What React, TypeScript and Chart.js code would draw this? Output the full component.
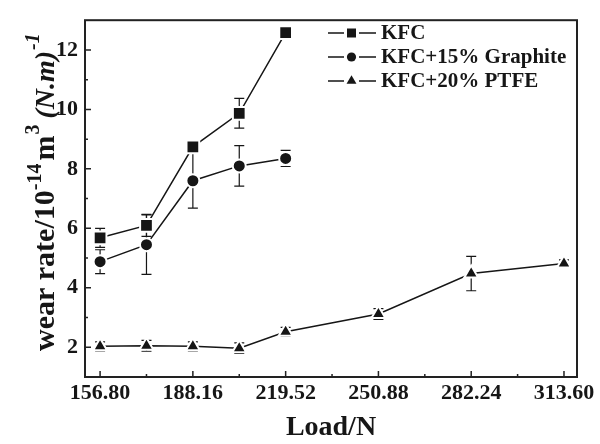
import React, { useEffect, useRef } from "react";
import { Chart, registerables } from "chart.js";
Chart.register(...registerables);

const loads = [156.8, 172.48, 188.16, 203.84, 219.52, 250.88, 282.24, 313.6];
const xTickValues = [156.8, 188.16, 219.52, 250.88, 282.24, 313.6];
const xTickLabels = ["156.80", "188.16", "219.52", "250.88", "282.24", "313.60"];
const xMinorTicks = [172.48, 203.84, 235.2, 266.56, 297.92];
const yTickValues = [2, 4, 6, 8, 10, 12];
const yMinorTicks = [3, 5, 7, 9, 11];

const seriesNames = ["KFC", "KFC+15% Graphite", "KFC+20% PTFE"];
const kfc = [5.68, 6.1, 8.74, 9.87, 12.58];
const kfcErr = [0.32, 0.37, 0.12, 0.5, 0.05];
const graphite = [4.88, 5.45, 7.6, 8.1, 8.35];
const graphiteErr = [0.4, 1.0, 0.92, 0.68, 0.27];
const ptfe = [2.03, 2.05, 2.03, 1.97, 2.52, 3.12, 4.48, 4.82];
const ptfeErr = [0.15, 0.18, 0.15, 0.18, 0.15, 0.18, 0.58, 0.12];

const INK = "#161616";
const FONT = "'Liberation Serif', 'Times New Roman', serif";

const errors = [kfcErr, graphiteErr, ptfeErr];

function drawMarker(ctx: CanvasRenderingContext2D, style: string, x: number, y: number, s: number) {
  ctx.beginPath();
  if (style === "rect") {
    ctx.rect(x - s, y - s, 2 * s, 2 * s);
  } else if (style === "circle") {
    ctx.arc(x, y, s, 0, Math.PI * 2);
  } else {
    const r = s * 1.3;
    ctx.moveTo(x, y - r);
    ctx.lineTo(x + r * 0.866, y + r * 0.5);
    ctx.lineTo(x - r * 0.866, y + r * 0.5);
    ctx.closePath();
  }
  ctx.fill();
}

const decor = {
  id: "decor",
  beforeDatasetsDraw(chart: any) {
    const ctx = chart.ctx as CanvasRenderingContext2D;
    const xs = chart.scales.x;
    const ys = chart.scales.y;
    ctx.save();
    ctx.strokeStyle = INK;
    ctx.lineWidth = 1.2;
    chart.data.datasets.forEach((ds: any, i: number) => {
      ds.data.forEach((p: any, j: number) => {
        const e = errors[i][j];
        const px = xs.getPixelForValue(p.x);
        const top = ys.getPixelForValue(p.y + e);
        const bot = ys.getPixelForValue(p.y - e);
        ctx.beginPath();
        ctx.moveTo(px, top);
        ctx.lineTo(px, bot);
        ctx.moveTo(px - 5, top);
        ctx.lineTo(px + 5, top);
        ctx.moveTo(px - 5, bot);
        ctx.lineTo(px + 5, bot);
        ctx.stroke();
      });
    });
    ctx.restore();
  },
  afterDraw(chart: any) {
    const ctx = chart.ctx as CanvasRenderingContext2D;
    const { left, right, top, bottom } = chart.chartArea;
    const xs = chart.scales.x;
    const ys = chart.scales.y;
    ctx.save();
    // frame
    ctx.strokeStyle = "#222";
    ctx.lineWidth = 2;
    ctx.strokeRect(left, top, right - left, bottom - top);
    // inward ticks
    ctx.lineWidth = 1.5;
    ctx.beginPath();
    xTickValues.forEach((v) => {
      const px = xs.getPixelForValue(v);
      ctx.moveTo(px, bottom);
      ctx.lineTo(px, bottom - 6);
    });
    xMinorTicks.forEach((v) => {
      const px = xs.getPixelForValue(v);
      ctx.moveTo(px, bottom);
      ctx.lineTo(px, bottom - 3);
    });
    yTickValues.forEach((v) => {
      const py = ys.getPixelForValue(v);
      ctx.moveTo(left, py);
      ctx.lineTo(left + 6, py);
    });
    yMinorTicks.forEach((v) => {
      const py = ys.getPixelForValue(v);
      ctx.moveTo(left, py);
      ctx.lineTo(left + 3, py);
    });
    ctx.stroke();

    // legend
    const styles = ["rect", "circle", "triangle"];
    const sizes = [4.5, 4.6, 4.4];
    const rows = [33, 57, 81];
    ctx.fillStyle = INK;
    ctx.strokeStyle = INK;
    ctx.lineWidth = 1.6;
    seriesNames.forEach((name, i) => {
      const y = rows[i];
      ctx.beginPath();
      ctx.moveTo(328, y);
      ctx.lineTo(344, y);
      ctx.moveTo(359, y);
      ctx.lineTo(376, y);
      ctx.stroke();
      drawMarker(ctx, styles[i], 351.5, y, sizes[i]);
      ctx.font = `bold 21px ${FONT}`;
      ctx.textAlign = "left";
      ctx.textBaseline = "middle";
      ctx.fillText(name, 381, y + 1);
    });

    // x title
    ctx.font = `bold 28px ${FONT}`;
    ctx.textAlign = "center";
    ctx.textBaseline = "middle";
    ctx.fillText("Load/N", (left + right) / 2, 428);

    // y title with superscripts
    ctx.translate(54, 351);
    ctx.rotate(-Math.PI / 2);
    ctx.textAlign = "left";
    ctx.textBaseline = "alphabetic";
    const segs: [string, string, number, number][] = [
      ["wear rate/10", `bold 30px ${FONT}`, 0, 0],
      ["-14", `bold 20px ${FONT}`, -13, 0],
      ["m", `bold 30px ${FONT}`, 0, 3],
      ["3", `bold 20px ${FONT}`, -15, 1],
      ["(N.m)", `italic bold 28px ${FONT}`, 0, 6],
      ["-1", `italic bold 20px ${FONT}`, -15, 1],
    ];
    let cx = 0;
    segs.forEach(([t, f, dy, gap]) => {
      cx += gap;
      ctx.font = f;
      ctx.fillText(t, cx, dy);
      cx += ctx.measureText(t).width;
    });
    ctx.restore();
  },
};

export default function App() {
  const ref = useRef<HTMLCanvasElement>(null);
  useEffect(() => {
    if (!ref.current) return;
    const mk = (vals: number[]) => vals.map((v, i) => ({ x: loads[i], y: v }));
    const common = {
      borderColor: INK,
      backgroundColor: INK,
      pointBackgroundColor: INK,
      pointBorderColor: "#ffffff",
      borderWidth: 1.5,
      pointBorderWidth: 2,
      showLine: true,
      fill: false,
      tension: 0,
    };
    const chart = new Chart(ref.current, {
      type: "line",
      data: {
        datasets: [
          { ...common, label: seriesNames[0], data: mk(kfc), pointStyle: "rect", pointRadius: 9 },
          { ...common, label: seriesNames[1], data: mk(graphite), pointStyle: "circle", pointRadius: 6.5 },
          { ...common, label: seriesNames[2], data: mk(ptfe), pointStyle: "triangle", pointRadius: 8 },
        ],
      },
      options: {
        animation: false,
        responsive: false,
        devicePixelRatio: 1,
        layout: { padding: { top: 13, right: 23, left: 0, bottom: 0 } },
        plugins: { legend: { display: false }, tooltip: { enabled: false } },
        scales: {
          x: {
            type: "linear",
            min: 151.7,
            max: 318.0,
            afterFit: (s: any) => {
              s.height = 67;
            },
            afterBuildTicks: (s: any) => {
              s.ticks = xTickValues.map((v) => ({ value: v }));
            },
            grid: { display: false, drawTicks: false },
            border: { display: false },
            ticks: {
              padding: 3,
              color: INK,
              maxRotation: 0,
              autoSkip: false,
              font: { family: FONT, size: 22, weight: "bold" },
              callback: (v: any) => {
                const i = xTickValues.indexOf(Number(v));
                return i >= 0 ? xTickLabels[i] : "";
              },
            },
          },
          y: {
            type: "linear",
            min: 1,
            max: 13,
            afterFit: (s: any) => {
              s.width = 85;
            },
            afterBuildTicks: (s: any) => {
              s.ticks = yTickValues.map((v) => ({ value: v }));
            },
            grid: { display: false, drawTicks: false },
            border: { display: false },
            ticks: {
              padding: 7,
              color: INK,
              autoSkip: false,
              font: { family: FONT, size: 22, weight: "bold" },
              callback: (v: any) => String(v),
            },
          },
        },
      },
      plugins: [decor],
    } as any);
    return () => chart.destroy();
  }, []);
  return (
    <div style={{ position: "absolute", left: 0, top: 0, width: 600, height: 444, background: "#fff" }}>
      <canvas ref={ref} width={600} height={444} style={{ display: "block" }} />
    </div>
  );
}
